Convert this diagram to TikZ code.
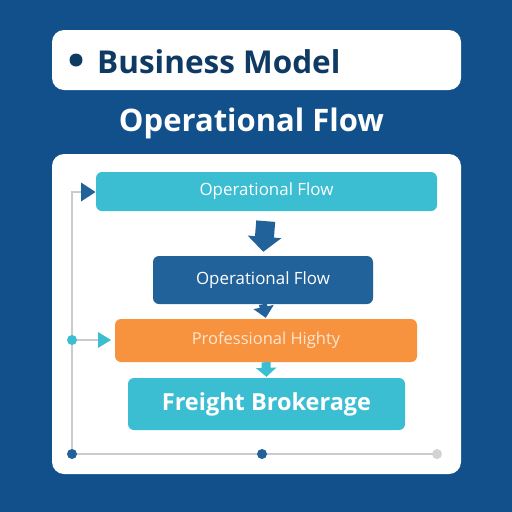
\documentclass[tikz,border=0pt]{standalone}
\usepackage{fontspec}
\setmainfont{Open Sans}
\usetikzlibrary{arrows.meta}
\definecolor{bg}{HTML}{11508A}
\definecolor{navy}{HTML}{0F3A63}
\definecolor{cyanbox}{HTML}{3BBDD2}
\definecolor{bluebox}{HTML}{22629A}
\definecolor{orangebox}{HTML}{F7923F}
\definecolor{lightline}{HTML}{CBCBCB}
\definecolor{orangetext}{HTML}{FCE6D2}
\tikzset{
  flowbox/.style={rounded corners=6pt, minimum height=#1, inner sep=0pt, text=white},
  dot/.style={circle, inner sep=0pt, minimum size=10pt},
  guide/.style={draw=lightline, line width=1.6pt},
}
\begin{document}
\begin{tikzpicture}[x=1pt,y=-1pt]
\useasboundingbox (0,0) rectangle (512,512);
\fill[bg] (0,0) rectangle (512,512);
% header
\node[fill=white, rounded corners=12pt, minimum width=409pt, minimum height=60pt, inner sep=0pt] (hdr) at (256.5,60) {};
\node[dot, fill=navy, minimum size=13pt] (hdot) at (76,60) {};
\node[anchor=west, text=navy, font=\bfseries\fontsize{31.5}{34}\selectfont, inner sep=0pt] (htxt) at (97,62) {Business Model};
\node[text=white, font=\bfseries\fontsize{31}{34}\selectfont, inner sep=0pt] (title) at (251.5,123) {Operational Flow};
% panel
\node[fill=white, rounded corners=12pt, minimum width=409pt, minimum height=320pt, inner sep=0pt] (panel) at (256.5,314) {};
% boxes
\node[flowbox=39pt, fill=cyanbox, minimum width=341pt, font=\fontsize{16.9}{18}\selectfont] (b1) at (266.5,191.5) {Operational Flow};
\node[flowbox=48pt, fill=bluebox, minimum width=220pt, font=\fontsize{16.9}{18}\selectfont] (b2) at (263,280) {Operational Flow};
\node[flowbox=43pt, fill=orangebox, minimum width=302pt, text=orangetext, font=\fontsize{16.5}{18}\selectfont] (b3) at (266,340.5) {Professional Highty};
\node[flowbox=52pt, fill=cyanbox, minimum width=277pt, font=\bfseries\fontsize{23.5}{26}\selectfont] (b4) at (266.5,404) {Freight Brokerage};
% arrows between boxes
\draw[bluebox, line width=19pt, -{Triangle[width=33pt,length=15pt]}, shorten <=10pt, shorten >=4pt] (b1.south) -- (b2.north);
\draw[bluebox, line width=8pt, -{Triangle[width=20pt,length=11pt]}, shorten >=1pt] (b2.south) -- (b3.north);
\draw[cyanbox, line width=9pt, -{Triangle[width=20pt,length=9pt]}, shorten >=1pt] (b3.south) -- (b4.north);
% guide lines
\coordinate (bl) at (72,454);
\coordinate (bm) at (262,454);
\coordinate (br) at (437,454);
\coordinate (ml) at (72,340);
\draw[guide] (br) -- (bl);
\draw[guide] (bl) -- (72,192) -- (84,192);
\fill[bluebox] (81,182.5) -- (95.5,192) -- (81,201.5) -- cycle;
\node[dot, fill=cyanbox] (cdot) at (ml) {};
\draw[guide] (cdot.east) -- (99,340);
\fill[cyanbox] (98,332) -- (111,340) -- (98,348) -- cycle;
\node[dot, fill=bluebox] at (bl) {};
\node[dot, fill=bluebox] at (bm) {};
\node[dot, fill=lightline!85!white] at (br) {};
\end{tikzpicture}
\end{document}
